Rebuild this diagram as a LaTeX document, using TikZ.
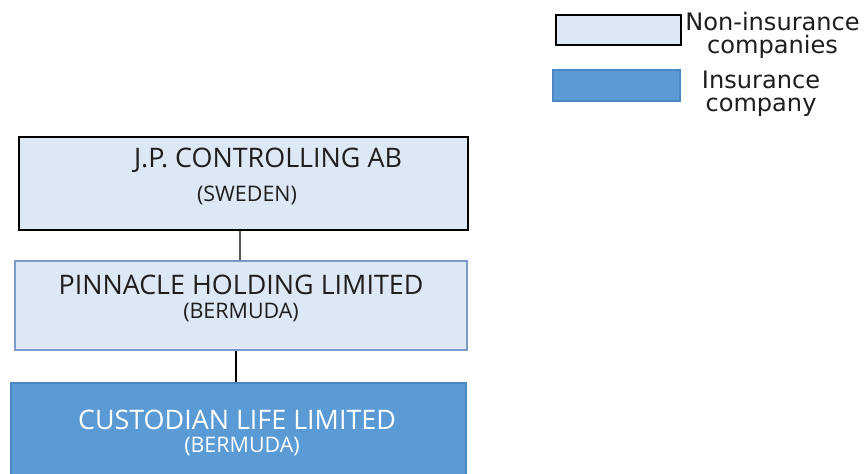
\documentclass[tikz,border=0pt]{standalone}
\usepackage{fontspec}
\setmainfont{Open Sans}
\newfontfamily\legendfont{DejaVu Sans}
\usetikzlibrary{positioning}
\definecolor{nonfill}{RGB}{221,232,245}
\definecolor{nonedge}{RGB}{125,155,200}
\definecolor{insfill}{RGB}{91,155,213}
\definecolor{insedge}{RGB}{75,135,195}
\definecolor{txtgray}{RGB}{30,30,30}
\tikzset
{
    company/.style  = {rectangle, draw=nonedge, fill=nonfill, line width=0.9pt, minimum width=9.04cm, minimum height=1.78cm},
    insurer/.style  = {rectangle, draw=insedge, fill=insfill, line width=0.9pt, minimum width=9.1cm, minimum height=1.94cm},
    cname/.style    = {font=\fontsize{15.3}{17}\selectfont, text=txtgray, inner sep=0pt},
    ccountry/.style = {font=\fontsize{12.2}{14}\selectfont, text=txtgray, inner sep=0pt},
    legtext/.style  = {font=\legendfont\fontsize{13.7}{13.2}\selectfont, text=txtgray, align=center, inner sep=0pt}
}

\begin{document}
\begin{tikzpicture}
\useasboundingbox (0,0) rectangle (17.34,-9.46);
\node (jp)  [company, draw=black, line width=1.1pt, minimum width=8.98cm, minimum height=1.86cm] at (4.87,-3.67) {};
\node (phl) [company]                  at (4.82,-6.11) {};
\node (cll) [insurer]                  at (4.77,-8.63) {};

\node (jpname)  [cname]                at (5.36,-3.20) {J.P. CONTROLLING AB};
\node (jpctry)  [ccountry]             at (4.94,-3.90) {(SWEDEN)};
\node (phlname) [cname]                at (4.82,-5.70) {PINNACLE HOLDING LIMITED};
\node (phlctry) [ccountry]             at (4.82,-6.25) {(BERMUDA)};
\node (cllname) [cname, text=white]    at (4.74,-8.40) {CUSTODIAN LIFE LIMITED};
\node (cllctry) [ccountry, text=white] at (4.84,-8.94) {(BERMUDA)};

\path[draw, line width=0.8pt]
([xshift=-0.07cm]jp.south)  edge  ([xshift=-0.02cm]phl.north)
([xshift=-0.10cm]phl.south) edge  ([xshift=-0.05cm]cll.north);

%% legend
\node (legnon)  [company, draw=black, line width=1.1pt, minimum width=2.5cm, minimum height=0.6cm] at (12.37,-0.60) {};
\node (legins)  [insurer, minimum width=2.54cm, minimum height=0.62cm]                             at (12.33,-1.71) {};
\node (legnont) [legtext]              at (15.45,-0.70) {Non-insurance\\companies};
\node (leginst) [legtext]              at (15.22,-1.87) {Insurance\\company};

\end{tikzpicture}
\end{document}
